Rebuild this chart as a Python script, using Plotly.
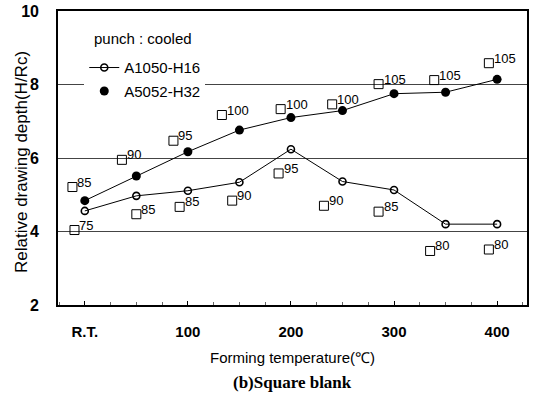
import plotly.graph_objects as go

# ---- data ----
temps = [0, 50, 100, 150, 200, 250, 300, 350, 400]          # 0 = R.T.
a1050 = [4.56, 4.97, 5.11, 5.34, 6.24, 5.36, 5.13, 4.20, 4.20]
a5052 = [4.84, 5.51, 6.17, 6.76, 7.10, 7.29, 7.75, 7.79, 8.14]

# square-blank size markers (position and label)
sq_hi_x = [-12, 36, 86, 133, 190, 240, 285, 339, 392]
sq_hi_y = [5.21, 5.95, 6.47, 7.17, 7.33, 7.46, 8.01, 8.12, 8.58]
sq_hi_lbl = ["85", "90", "95", "100", "100", "100", "105", "105", "105"]
sq_lo_x = [-10, 50, 92, 143, 188, 232, 285, 335, 392]
sq_lo_y = [4.04, 4.47, 4.67, 4.84, 5.58, 4.70, 4.54, 3.47, 3.51]
sq_lo_lbl = ["75", "85", "85", "90", "95", "90", "85", "80", "80"]

x_tickvals = [0, 100, 200, 300, 400]
x_ticktext = ["R.T.", "100", "200", "300", "400"]
y_tickvals = [2, 4, 6, 8, 10]

FONT = "Liberation Sans, Arial"
L, T, W, H = 58, 11, 469, 294   # plot area in px


def px_x(px):
    return (px - L) / W


def px_y(py):
    return 1 - (py - T) / H


fig = go.Figure()

# squares (no legend)
fig.add_trace(go.Scatter(x=sq_hi_x + sq_lo_x, y=sq_hi_y + sq_lo_y, mode="markers",
                         marker=dict(symbol="square-open", size=9, color="black",
                                     line=dict(width=1, color="black")),
                         showlegend=False, hoverinfo="skip"))

fig.add_trace(go.Scatter(x=temps, y=a1050, mode="lines+markers", name="A1050-H16",
                         line=dict(color="black", width=1),
                         marker=dict(symbol="circle-open", size=7, color="black",
                                     line=dict(width=1.6, color="black")),
                         legendgroup="a", showlegend=True))
fig.add_trace(go.Scatter(x=temps, y=a5052, mode="lines+markers", name="A5052-H32",
                         line=dict(color="black", width=1),
                         marker=dict(symbol="circle", size=9, color="black"),
                         legendgroup="b", showlegend=False))
# legend entry for A5052 (marker only, as in reference)
fig.add_trace(go.Scatter(x=[None], y=[None], mode="markers", name="A5052-H32",
                         marker=dict(symbol="circle", size=9, color="black"),
                         legendgroup="b", showlegend=True))

annotations = []
for xs, ys, ls in [(sq_hi_x, sq_hi_y, sq_hi_lbl), (sq_lo_x, sq_lo_y, sq_lo_lbl)]:
    for xv, yv, lv in zip(xs, ys, ls):
        annotations.append(dict(x=xv, y=yv, xref="x", yref="y", text=lv, showarrow=False,
                                xanchor="left", yanchor="middle", xshift=3, yshift=5,
                                font=dict(family=FONT, size=13, color="black")))
annotations += [
    dict(x=0.5, y=px_y(382), xref="paper", yref="paper", text="<b>(b)Square blank</b>",
         showarrow=False, xanchor="center", yanchor="middle",
         font=dict(family="Liberation Serif, Times New Roman", size=17, color="black")),
    dict(x=px_x(92), y=px_y(38), xref="paper", yref="paper", text="punch : cooled",
         showarrow=False, xanchor="left", yanchor="middle",
         font=dict(family=FONT, size=15, color="black")),
    dict(x=0.5, y=px_y(357), xref="paper", yref="paper", text="Forming temperature(℃)",
         showarrow=False, xanchor="center", yanchor="middle",
         font=dict(family=FONT, size=15, color="black")),
    dict(x=px_x(21), y=px_y(162), xref="paper", yref="paper", text="Relative drawing depth(H/Rc)",
         showarrow=False, xanchor="center", yanchor="middle", textangle=-90,
         font=dict(family=FONT, size=17, color="black")),
]

fig.update_layout(
    width=536, height=401,
    margin=dict(l=L, r=536 - L - W, t=T, b=401 - T - H),
    paper_bgcolor="white", plot_bgcolor="white",
    font=dict(family=FONT, color="black"),
    annotations=annotations,
    legend=dict(x=0.056, y=0.863, xanchor="left", yanchor="top",
                bgcolor="white", borderwidth=0,
                font=dict(size=15), traceorder="grouped", tracegroupgap=1,
                itemwidth=30),
    xaxis=dict(range=[-26, 429], tickvals=x_tickvals, ticktext=x_ticktext,
               tickfont=dict(size=15, family=FONT, weight="bold"),
               ticks="inside", ticklen=4, tickcolor="black",
               minor=dict(dtick=25, tick0=0, ticks="inside", ticklen=3, tickcolor="#666"),
               showgrid=False, zeroline=False, automargin=False,
               showline=True, linecolor="black", linewidth=1.6, mirror=True,
               ticklabelstandoff=12),
    yaxis=dict(range=[2, 10], tickvals=y_tickvals,
               tickfont=dict(size=16, family=FONT, weight="bold"),
               ticks="", showgrid=True, gridcolor="#444", gridwidth=1, automargin=False,
               zeroline=False, showline=True, linecolor="black", linewidth=1.6, mirror=True,
               ticklabelstandoff=14),
)

fig.write_html("out.html")
